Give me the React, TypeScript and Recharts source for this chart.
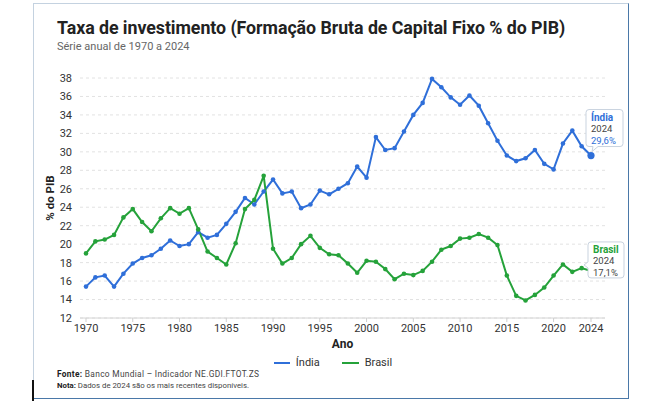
import React from 'react';
import { LineChart, Line, XAxis, YAxis, CartesianGrid } from 'recharts';

const years = [
  1970, 1971, 1972, 1973, 1974, 1975, 1976, 1977, 1978, 1979,
  1980, 1981, 1982, 1983, 1984, 1985, 1986, 1987, 1988, 1989,
  1990, 1991, 1992, 1993, 1994, 1995, 1996, 1997, 1998, 1999,
  2000, 2001, 2002, 2003, 2004, 2005, 2006, 2007, 2008, 2009,
  2010, 2011, 2012, 2013, 2014, 2015, 2016, 2017, 2018, 2019,
  2020, 2021, 2022, 2023, 2024,
];

const india = [
  15.4, 16.4, 16.6, 15.4, 16.8, 17.9, 18.5, 18.8, 19.5, 20.4,
  19.8, 20.0, 21.3, 20.7, 21.0, 22.2, 23.5, 25.0, 24.3, 25.7,
  27.0, 25.5, 25.7, 23.9, 24.3, 25.8, 25.4, 26.0, 26.6, 28.4,
  27.2, 31.6, 30.2, 30.4, 32.2, 34.0, 35.3, 37.9, 37.0, 35.9,
  35.1, 36.1, 35.0, 33.1, 31.2, 29.6, 29.0, 29.3, 30.2, 28.7,
  28.1, 30.9, 32.3, 30.6, 29.6,
];

const brasil = [
  19.0, 20.3, 20.5, 21.0, 22.9, 23.8, 22.4, 21.4, 22.8, 23.9,
  23.3, 23.9, 21.6, 19.2, 18.5, 17.8, 20.1, 23.8, 24.8, 27.4,
  19.5, 17.9, 18.5, 20.0, 20.9, 19.6, 18.9, 18.8, 17.9, 16.9,
  18.2, 18.1, 17.3, 16.2, 16.8, 16.65, 17.1, 18.1, 19.4, 19.8,
  20.6, 20.7, 21.1, 20.7, 19.9, 16.6, 14.4, 13.9, 14.5, 15.3,
  16.6, 17.8, 17.0, 17.4, 17.1,
];

const xTicks = [1970, 1975, 1980, 1985, 1990, 1995, 2000, 2005, 2010, 2015, 2020, 2024];
const yTicks = [12, 14, 16, 18, 20, 22, 24, 26, 28, 30, 32, 34, 36, 38];

const BLUE = '#2f6fd9';
const GREEN = '#25a23a';
const FONT = 'Roboto, "Noto Sans", Arial, sans-serif';

const data = years.map((year, i) => ({ year, india: india[i], brasil: brasil[i] }));
const LAST = years.length - 1;

const fmt = (v: number) => v.toFixed(1).replace('.', ',') + '%';

const IndiaTag = (props: any) => {
  const { x, y, index, value } = props;
  if (index !== LAST || x == null || y == null) return null;
  const cx = Number(x);
  const cy = Number(y);
  const bx = cx - 5;
  const by = cy - 46;
  const w = 37;
  const h = 37;
  return (
    <g>
      <circle cx={cx} cy={cy} r={3.6} fill={BLUE} />
      <path
        d={`M${bx + 3},${by} H${bx + w - 3} Q${bx + w},${by} ${bx + w},${by + 3} V${by + h - 3} Q${bx + w},${by + h} ${bx + w - 3},${by + h} H${bx + 12} L${bx + 6},${by + h + 5} L${bx + 7},${by + h} H${bx + 3} Q${bx},${by + h} ${bx},${by + h - 3} V${by + 3} Q${bx},${by} ${bx + 3},${by} Z`}
        fill="#ffffff"
        stroke="#c9d3df"
        strokeWidth={1}
      />
      <text x={bx + 5} y={by + 11} fontSize={10} fontWeight={700} fill={BLUE} fontFamily={FONT}>Índia</text>
      <text x={bx + 5} y={by + 22.5} fontSize={9.5} fill="#444" fontFamily={FONT}>{years[LAST]}</text>
      <text x={bx + 5} y={by + 34} fontSize={9.5} fill={BLUE} fontFamily={FONT}>{fmt(Number(value))}</text>
    </g>
  );
};

const BrasilTag = (props: any) => {
  const { x, y, index, value } = props;
  if (index !== LAST || x == null || y == null) return null;
  const cx = Number(x);
  const cy = Number(y);
  const bx = cx - 3;
  const by = cy - 29;
  const w = 36;
  const h = 36;
  return (
    <g>
      <path
        d={`M${bx + 3},${by} H${bx + w - 3} Q${bx + w},${by} ${bx + w},${by + 3} V${by + h - 3} Q${bx + w},${by + h} ${bx + w - 3},${by + h} H${bx + 3} Q${bx},${by + h} ${bx},${by + h - 3} V${by + 26} L${bx - 4},${by + 23} L${bx},${by + 20} V${by + 3} Q${bx},${by} ${bx + 3},${by} Z`}
        fill="#ffffff"
        stroke="#c9d3df"
        strokeWidth={1}
      />
      <text x={bx + 5} y={by + 11} fontSize={10} fontWeight={700} fill={GREEN} fontFamily={FONT}>Brasil</text>
      <text x={bx + 5} y={by + 22.5} fontSize={9.5} fill="#444" fontFamily={FONT}>{years[LAST]}</text>
      <text x={bx + 5} y={by + 34} fontSize={9.5} fill="#444" fontFamily={FONT}>{fmt(Number(value))}</text>
    </g>
  );
};

const YLabel = (props: any) => {
  const vb = props.viewBox || {};
  const x = (vb.x ?? 40) + 10;
  const y = (vb.y ?? 78) + (vb.height ?? 240) / 2;
  return (
    <text
      x={x}
      y={y}
      transform={`rotate(-90, ${x}, ${y})`}
      textAnchor="middle"
      dominantBaseline="central"
      fontSize={11.5}
      fontWeight={700}
      fill="#222"
      fontFamily={FONT}
    >
      % do PIB
    </text>
  );
};

export default function App() {
  return (
    <div style={{ position: 'relative', width: 658, height: 412, background: '#fff', fontFamily: FONT }}>
      <style>{'body{margin:0;background:#fff;}'}</style>
      <div
        style={{
          position: 'absolute',
          left: 33,
          top: 3,
          width: 596,
          height: 396,
          boxSizing: 'border-box',
          borderTop: '1px solid #c4d2e0',
          borderLeft: '1px solid #c4d2e0',
          borderRight: '1.5px solid #4a78a8',
          borderBottom: '1.5px solid #4a78a8',
        }}
      />
      <div style={{ position: 'absolute', left: 32, top: 380, width: 1.5, height: 21, background: '#111' }} />
      <div
        style={{
          position: 'absolute',
          left: 57,
          top: 17,
          fontSize: 17.8,
          fontWeight: 700,
          color: '#222',
          whiteSpace: 'nowrap',
          letterSpacing: -0.05,
        }}
      >
        Taxa de investimento (Formação Bruta de Capital Fixo % do PIB)
      </div>
      <div style={{ position: 'absolute', left: 57, top: 40, fontSize: 11, color: '#666', whiteSpace: 'nowrap' }}>
        Série anual de 1970 a 2024
      </div>
      <div style={{ position: 'absolute', left: 0, top: 0 }}>
        <LineChart width={658} height={412} data={data} margin={{ top: 78, right: 53, bottom: 64, left: 40 }}>
          <CartesianGrid vertical={false} stroke="#e2e2e2" strokeDasharray="3 3" />
          <XAxis
            dataKey="year"
            type="number"
            domain={[1970, 2024]}
            ticks={xTicks}
            interval={0}
            padding={{ left: 6, right: 14 }}
            height={30}
            tick={{ fontSize: 11, fill: '#333', fontFamily: FONT }}
            tickLine={{ stroke: '#cfcfcf' }}
            tickSize={4}
            axisLine={{ stroke: '#d4d4d4' }}
            label={{ value: 'Ano', position: 'insideBottom', offset: 0, fontSize: 12, fontWeight: 700, fill: '#222', fontFamily: FONT }}
          />
          <YAxis
            type="number"
            domain={[12, 38]}
            ticks={yTicks}
            interval={0}
            width={40}
            axisLine={false}
            tickLine={false}
            tick={{ fontSize: 11, fill: '#333', fontFamily: FONT }}
            label={<YLabel />}
          />
          <Line
            type="linear"
            dataKey="india"
            name="Índia"
            stroke={BLUE}
            strokeWidth={2}
            dot={{ r: 2.3, fill: BLUE, stroke: BLUE, strokeWidth: 0 }}
            label={<IndiaTag />}
            isAnimationActive={false}
          />
          <Line
            type="linear"
            dataKey="brasil"
            name="Brasil"
            stroke={GREEN}
            strokeWidth={2}
            dot={{ r: 2.3, fill: GREEN, stroke: GREEN, strokeWidth: 0 }}
            label={<BrasilTag />}
            isAnimationActive={false}
          />
        </LineChart>
      </div>
      <div
        style={{
          position: 'absolute',
          left: 0,
          width: 658,
          top: 356,
          display: 'flex',
          justifyContent: 'center',
          alignItems: 'center',
          gap: 22,
          fontSize: 11,
          color: '#333',
          paddingLeft: 8,
          boxSizing: 'border-box',
        }}
      >
        <div style={{ display: 'flex', alignItems: 'center', gap: 6 }}>
          <span style={{ display: 'inline-block', width: 16, height: 2, background: BLUE }} />
          <span>Índia</span>
        </div>
        <div style={{ display: 'flex', alignItems: 'center', gap: 6 }}>
          <span style={{ display: 'inline-block', width: 17, height: 2, background: GREEN }} />
          <span>Brasil</span>
        </div>
      </div>
      <div style={{ position: 'absolute', left: 57, top: 369, fontSize: 8.4, letterSpacing: 0.3, color: '#444', whiteSpace: 'nowrap' }}>
        <b style={{ color: '#222' }}>Fonte:</b> Banco Mundial – Indicador NE.GDI.FTOT.ZS
      </div>
      <div style={{ position: 'absolute', left: 57, top: 381, fontSize: 7.8, color: '#444', whiteSpace: 'nowrap' }}>
        <b style={{ color: '#222' }}>Nota:</b> Dados de 2024 são os mais recentes disponíveis.
      </div>
    </div>
  );
}
